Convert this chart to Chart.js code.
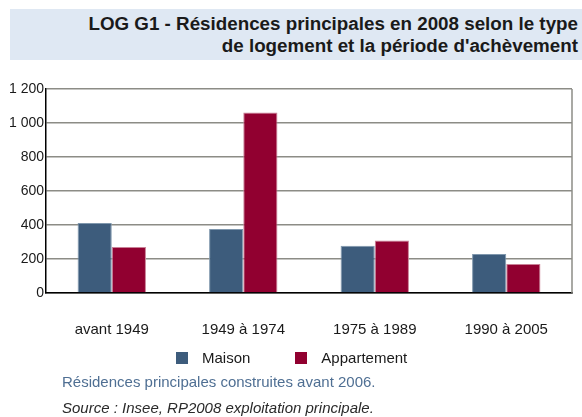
<!DOCTYPE html>
<html>
<head>
<meta charset="utf-8">
<script src="https://cdn.jsdelivr.net/npm/chart.js@4"></script>
<style>
  body { margin: 0; width: 582px; height: 417px; background: #fff; font-family: "Liberation Sans", Arial, sans-serif; position: relative; overflow: hidden; }
  #title { position: absolute; left: 10px; top: 9px; width: 572px; height: 51px; background: #dfe8f3; }
  #title div { position: absolute; right: 4px; font-weight: bold; font-size: 18.8px; color: #1a1a1a; white-space: nowrap; }
  #wrap { position: absolute; left: 0; top: 72px; width: 582px; height: 287px; }
  #legend { position: absolute; left: 176px; top: 349px; display: flex; font-size: 15px; color: #1a1a1a; }
  #legend .item { display: flex; align-items: center; margin-right: 45px; }
  #legend .box { width: 12px; height: 12px; margin-right: 14px; }
  #note { position: absolute; left: 62px; top: 373px; font-size: 15px; color: #4f6f93; }
  #src { position: absolute; left: 62px; top: 399px; font-size: 15px; font-style: italic; color: #2a2a2a; }
</style>
</head>
<body>
<div id="title">
  <div style="top:4px">LOG G1 - Résidences principales en 2008 selon le type</div>
  <div style="top:26px">de logement et la période d'achèvement</div>
</div>
<div id="wrap"><canvas id="myChart"></canvas></div>
<div id="legend"></div>
<div id="note">Résidences principales construites avant 2006.</div>
<div id="src">Source : Insee, RP2008 exploitation principale.</div>
<script>
// periods of completion
const periodes = ['avant 1949', '1949 à 1974', '1975 à 1989', '1990 à 2005'];
// number of main residences per type
const maison = [412, 376, 278, 230];
const appartement = [270, 1062, 309, 171];
const yTicks = [0, 200, 400, 600, 800, 1000, 1200];

// thousands with a space, like "1 200"
const fmt = v => String(v).replace(/\B(?=(\d{3})+(?!\d))/g, ' ');

// gray frame line on the right side of the plot
const rightBorder = {
    id: 'rightBorder',
    afterDraw(chart) {
        const {ctx, chartArea} = chart;
        ctx.save();
        ctx.strokeStyle = '#8c8c86';
        ctx.lineWidth = 1.5;
        ctx.beginPath();
        ctx.moveTo(chartArea.right, chartArea.top);
        ctx.lineTo(chartArea.right, chartArea.bottom);
        ctx.stroke();
        ctx.restore();
    }
};

// legend as html, built from the chart's own legend items
const htmlLegend = {
    id: 'htmlLegend',
    afterUpdate(chart) {
        const el = document.getElementById('legend');
        el.innerHTML = '';
        const items = chart.options.plugins.legend.labels.generateLabels(chart);
        items.forEach(item => {
            const div = document.createElement('div');
            div.className = 'item';
            const box = document.createElement('span');
            box.className = 'box';
            box.style.background = item.fillStyle;
            const txt = document.createElement('span');
            txt.textContent = item.text;
            div.appendChild(box);
            div.appendChild(txt);
            el.appendChild(div);
        });
    }
};

const makeChart = () => {
    const data = {
        labels: periodes,
        datasets: [{
            label: 'Maison',
            backgroundColor: '#3d5c7c',
            borderColor: '#7f97ad',
            borderWidth: 1,
            data: maison,
        }, {
            label: 'Appartement',
            backgroundColor: '#910030',
            borderColor: '#c98096',
            borderWidth: 1,
            data: appartement,
        }]
    };
    const config = {
        type: 'bar',
        data,
        options: {
            responsive: true,
            maintainAspectRatio: false,
            animation: false,
            layout: { padding: { left: 7, right: 10, top: 17, bottom: 0 } },
            datasets: { bar: { barPercentage: 1, categoryPercentage: 0.52 } },
            scales: {
                x: {
                    grid: { display: false },
                    border: { color: '#000', width: 1.5 },
                    ticks: { color: '#1a1a1a', font: { size: 15, family: 'Liberation Sans' }, padding: 20 }
                },
                y: {
                    min: 0, max: 1200,
                    afterBuildTicks: axis => { axis.ticks = yTicks.map(v => ({ value: v })); },
                    grid: { color: '#8c8c86', lineWidth: 1.5, drawTicks: false },
                    border: { color: '#000', width: 1.5 },
                    ticks: { color: '#1a1a1a', font: { size: 14, family: 'Liberation Sans' }, padding: 2, callback: v => fmt(v) }
                }
            },
            plugins: {
                legend: { display: false },
                tooltip: { enabled: false }
            }
        },
        plugins: [rightBorder, htmlLegend]
    };
    new Chart('myChart', config);
};
makeChart();
</script>
</body>
</html>
